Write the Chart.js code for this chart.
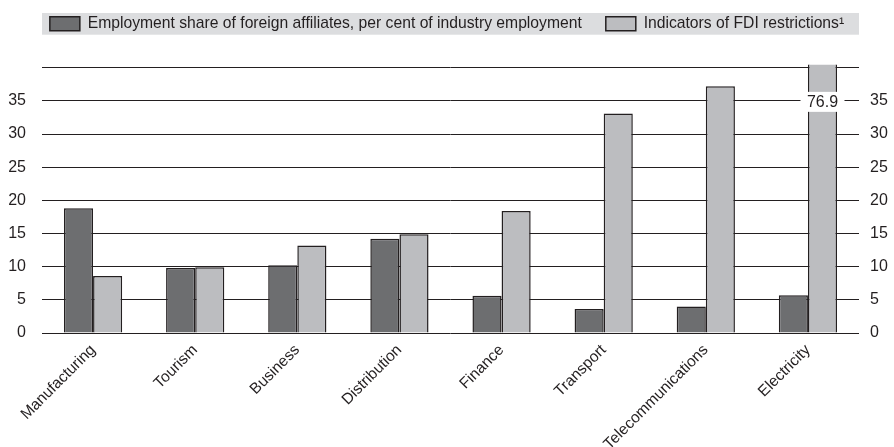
<!DOCTYPE html>
<html lang="en">
<head>
    <meta charset="UTF-8">
    <title>FDI restrictions and foreign affiliates</title>
    <script src="https://cdn.jsdelivr.net/npm/chart.js"></script>
    <style>
        html, body {
            margin: 0;
            padding: 0;
            background: #ffffff;
        }
        .chart-container {
            position: relative;
            width: 894px;
            height: 447px;
        }
    </style>
</head>
<body>
    <div class="chart-container">
        <canvas id="chart1"></canvas>
    </div>

    <script>
        // Data
        const categories = ["Manufacturing", "Tourism", "Business", "Distribution", "Finance", "Transport", "Telecommunications", "Electricity"];
        const employmentShare = [18.8, 9.8, 10.2, 14.2, 5.6, 3.6, 4.0, 5.7];
        const fdiRestrictions = [8.6, 9.9, 13.2, 14.9, 18.4, 33.1, 37.2, 76.9];
        const yTicks = [0, 5, 10, 15, 20, 25, 30, 35, 40];
        const labelledTicks = [0, 5, 10, 15, 20, 25, 30, 35];
        const seriesNames = ["Employment share of foreign affiliates, per cent of industry employment", "Indicators of FDI restrictions\u00B9"];

        const yMax = yTicks[yTicks.length - 1];
        const ink = "#231f20";

        Chart.defaults.font.family = "'Liberation Sans', Arial, sans-serif";
        Chart.defaults.color = ink;

        // extra space between the legend and the plot
        const legendGap = {
            id: "legendGap",
            beforeInit(chart) {
                const fit = chart.legend.fit;
                chart.legend.fit = function () {
                    fit.bind(chart.legend)();
                    this.height += 26;
                };
            }
        };

        // grey band behind the legend
        const legendBand = {
            id: "legendBand",
            beforeDraw(chart) {
                const hb = chart.legend.legendHitBoxes[0];
                if (!hb) return;
                const { ctx, chartArea } = chart;
                ctx.save();
                ctx.fillStyle = "#dcdddf";
                ctx.fillRect(chartArea.left, hb.top - 3, chartArea.right - chartArea.left, hb.height + 6);
                ctx.restore();
            }
        };

        // value label for bars cut off by the axis
        const overflowLabel = {
            id: "overflowLabel",
            afterDatasetsDraw(chart) {
                const { ctx } = chart;
                const y = chart.scales.y.getPixelForValue(35);
                chart.data.datasets.forEach((ds, di) => {
                    const meta = chart.getDatasetMeta(di);
                    ds.data.forEach((v, i) => {
                        if (v <= yMax) return;
                        const bar = meta.data[i];
                        ctx.save();
                        ctx.fillStyle = "#ffffff";
                        ctx.fillRect(bar.x - 22, y - 9, 44, 20);
                        ctx.fillStyle = ink;
                        ctx.font = "16px 'Liberation Sans', Arial, sans-serif";
                        ctx.textAlign = "center";
                        ctx.textBaseline = "middle";
                        ctx.fillText(v.toFixed(1), bar.x, y + 2);
                        ctx.restore();
                    });
                });
            }
        };

        const tickLabel = value => labelledTicks.includes(value) ? String(value) : "";
        const setTicks = scale => { scale.ticks = yTicks.map(v => ({ value: v })); };

        new Chart(document.getElementById("chart1"), {
            type: "bar",
            data: {
                labels: categories,
                datasets: [{
                    label: seriesNames[0],
                    data: employmentShare,
                    backgroundColor: "#6d6e70",
                    borderColor: ink,
                    borderWidth: 1.5
                }, {
                    label: seriesNames[1],
                    data: fdiRestrictions,
                    backgroundColor: "#bcbdc0",
                    borderColor: ink,
                    borderWidth: 1.5,
                    clip: { left: 0, top: 3, right: 0, bottom: 0 }
                }]
            },
            options: {
                responsive: true,
                maintainAspectRatio: false,
                animation: false,
                layout: {
                    padding: { top: -8, left: 0, right: 0, bottom: 0 }
                },
                datasets: {
                    bar: {
                        barPercentage: 1,
                        categoryPercentage: 0.57
                    }
                },
                plugins: {
                    legend: {
                        position: "top",
                        labels: {
                            boxWidth: 30,
                            boxHeight: 14,
                            padding: 24,
                            color: ink,
                            font: { size: 15.7 }
                        }
                    },
                    tooltip: { enabled: false }
                },
                scales: {
                    x: {
                        grid: { display: false },
                        border: { display: false },
                        ticks: {
                            maxRotation: 45,
                            minRotation: 45,
                            padding: 0,
                            color: ink,
                            font: { size: 15.5 }
                        },
                        afterFit: s => { s.height = 114; }
                    },
                    y: {
                        position: "left",
                        min: 0,
                        max: yMax,
                        afterBuildTicks: setTicks,
                        grid: { color: ink, lineWidth: 1, drawTicks: false },
                        border: { display: false },
                        ticks: {
                            padding: 16,
                            color: ink,
                            font: { size: 16 },
                            callback: tickLabel
                        },
                        afterFit: s => { s.width = 42; }
                    },
                    y2: {
                        position: "right",
                        min: 0,
                        max: yMax,
                        afterBuildTicks: setTicks,
                        grid: { display: false, drawTicks: false },
                        border: { display: false },
                        ticks: {
                            padding: 11,
                            color: ink,
                            font: { size: 16 },
                            callback: tickLabel
                        },
                        afterFit: s => { s.width = 35; }
                    }
                }
            },
            plugins: [legendGap, legendBand, overflowLabel]
        });
    </script>
</body>
</html>
